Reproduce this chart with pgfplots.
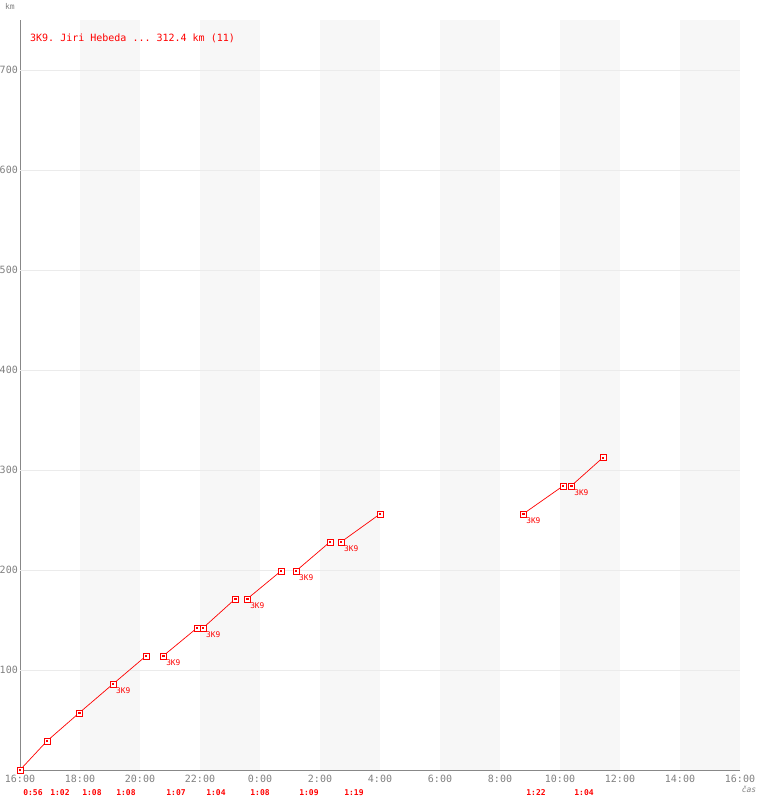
\documentclass[border=0pt]{standalone}
\usepackage{fontspec}
\setmonofont{DejaVu Sans Mono}
\usepackage{pgfplots}
\usepackage{pgfplotstable}
\pgfplotsset{compat=1.18}
\definecolor{stripe}{HTML}{F7F7F7}
\definecolor{gridc}{HTML}{EBEBEB}
\definecolor{axc}{HTML}{888888}
\definecolor{tickc}{HTML}{808080}
\definecolor{mredA}{HTML}{FE0000}
\definecolor{mredB}{HTML}{FF0101}
\pgfplotstableread{
h km
0 0
0.9 29
1.97 57
3.1 86
4.2 114
4.77 114
5.9 142
6.1 142
7.17 171
7.57 171
8.7 199
9.2 199
10.33 228
10.7 228
12.0 256
16.77 256
18.1 284
18.37 284
19.43 312.4
}\allpts
\pgfplotstableread{
h km
0 0
0.9 29
1.97 57
3.1 86
4.2 114
}\segA
\pgfplotstableread{
h km
4.77 114
5.9 142
}\segB
\pgfplotstableread{
h km
6.1 142
7.17 171
}\segC
\pgfplotstableread{
h km
7.57 171
8.7 199
}\segD
\pgfplotstableread{
h km
9.2 199
10.33 228
}\segE
\pgfplotstableread{
h km
10.7 228
12.0 256
}\segF
\pgfplotstableread{
h km
16.77 256
18.1 284
}\segG
\pgfplotstableread{
h km
18.37 284
19.43 312.4
}\segH
\tikzset{
  lbl/.style={anchor=north west, inner sep=0pt, xshift=3pt, yshift=-4pt, text=red, font=\ttfamily\fontsize{7.8}{9}\selectfont},
  dur/.style={inner sep=0pt, text=red, font=\ttfamily\bfseries\fontsize{8}{9}\selectfont},
}
\pgfplotsset{
  seg/.style={color=red, line width=0.7pt, no marks},
}
\begin{document}
\begin{tikzpicture}
\path[use as bounding box] (0pt,0pt) rectangle (760pt,800pt);
\begin{axis}[
  at={(20pt,30pt)}, anchor=south west,
  width=720pt, height=750pt, scale only axis,
  xmin=0, xmax=24, ymin=0, ymax=750,
  axis x line=bottom, axis y line=left,
  axis line style={-, color=axc, line width=0.9pt},
  xtick={0,2,...,24},
  xticklabels={16:00,18:00,20:00,22:00,0:00,2:00,4:00,6:00,8:00,10:00,12:00,14:00,16:00},
  ytick={100,200,...,700},
  /pgf/number format/assume math mode=true,
  major tick length=0pt,
  tick label style={font=\ttfamily\fontsize{10}{12}\selectfont, text=tickc},
  xticklabel style={yshift=-2pt},
  yticklabel style={inner sep=0pt, xshift=-2pt},
  clip=false,
]
\fill[stripe] (axis cs:2,0) rectangle (axis cs:4,750);
\fill[stripe] (axis cs:6,0) rectangle (axis cs:8,750);
\fill[stripe] (axis cs:10,0) rectangle (axis cs:12,750);
\fill[stripe] (axis cs:14,0) rectangle (axis cs:16,750);
\fill[stripe] (axis cs:18,0) rectangle (axis cs:20,750);
\fill[stripe] (axis cs:22,0) rectangle (axis cs:24,750);
\draw[gridc, line width=0.6pt] (axis cs:0,100) -- (axis cs:24,100);
\draw[gridc, line width=0.6pt] (axis cs:0,200) -- (axis cs:24,200);
\draw[gridc, line width=0.6pt] (axis cs:0,300) -- (axis cs:24,300);
\draw[gridc, line width=0.6pt] (axis cs:0,400) -- (axis cs:24,400);
\draw[gridc, line width=0.6pt] (axis cs:0,500) -- (axis cs:24,500);
\draw[gridc, line width=0.6pt] (axis cs:0,600) -- (axis cs:24,600);
\draw[gridc, line width=0.6pt] (axis cs:0,700) -- (axis cs:24,700);
\addplot[seg] table[x=h,y=km] {\segA};
\addplot[seg] table[x=h,y=km] {\segB};
\addplot[seg] table[x=h,y=km] {\segC};
\addplot[seg] table[x=h,y=km] {\segD};
\addplot[seg] table[x=h,y=km] {\segE};
\addplot[seg] table[x=h,y=km] {\segF};
\addplot[seg] table[x=h,y=km] {\segG};
\addplot[seg] table[x=h,y=km] {\segH};
\addplot[only marks, color=mredA, mark=square*, mark size=3pt, mark options={solid, draw=mredA, fill=white, line width=0.8pt}] table[x=h,y=km] {\allpts};
\addplot[only marks, color=mredB, mark=square*, mark size=0.6pt, mark options={draw=none, fill=mredB}] table[x=h,y=km] {\allpts};
\node[lbl] at (axis cs:3.1,86) {3K9};
\node[lbl] at (axis cs:4.77,114) {3K9};
\node[lbl] at (axis cs:6.1,142) {3K9};
\node[lbl] at (axis cs:7.57,171) {3K9};
\node[lbl] at (axis cs:9.2,199) {3K9};
\node[lbl] at (axis cs:10.7,228) {3K9};
\node[lbl] at (axis cs:16.77,256) {3K9};
\node[lbl] at (axis cs:18.37,284) {3K9};
\node[dur] at (axis cs:0.433,-23) {0:56};
\node[dur] at (axis cs:1.333,-23) {1:02};
\node[dur] at (axis cs:2.4,-23) {1:08};
\node[dur] at (axis cs:3.533,-23) {1:08};
\node[dur] at (axis cs:5.2,-23) {1:07};
\node[dur] at (axis cs:6.533,-23) {1:04};
\node[dur] at (axis cs:8.0,-23) {1:08};
\node[dur] at (axis cs:9.633,-23) {1:09};
\node[dur] at (axis cs:11.133,-23) {1:19};
\node[dur] at (axis cs:17.2,-23) {1:22};
\node[dur] at (axis cs:18.8,-23) {1:04};
\node[anchor=west, inner sep=0pt, text=red, font=\ttfamily\fontsize{10}{12}\selectfont] at (axis cs:0.333,732) {3K9. Jiri Hebeda ... 312.4 km (11)};
\end{axis}
\node[text=tickc, inner sep=0pt, font=\ttfamily\fontsize{8}{9}\selectfont] at (10pt,794pt) {km};
\node[text=tickc, inner sep=0pt, font=\ttfamily\itshape\fontsize{8}{9}\selectfont] at (749pt,11pt) {čas};
\end{tikzpicture}
\end{document}
